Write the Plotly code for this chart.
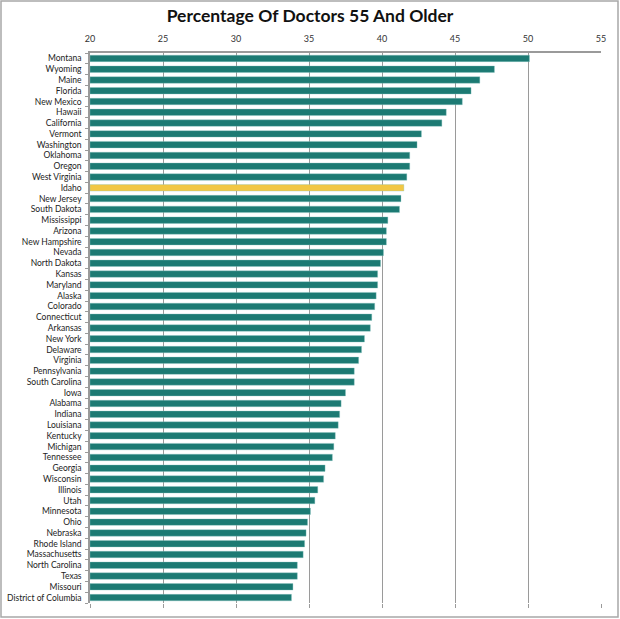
import plotly.graph_objects as go

W, H = 620, 619
MARGIN = dict(l=90, r=19, t=53, b=16)

states = [
    "Montana", "Wyoming", "Maine", "Florida", "New Mexico", "Hawaii", "California",
    "Vermont", "Washington", "Oklahoma", "Oregon", "West Virginia", "Idaho",
    "New Jersey", "South Dakota", "Mississippi", "Arizona", "New Hampshire",
    "Nevada", "North Dakota", "Kansas", "Maryland", "Alaska", "Colorado",
    "Connecticut", "Arkansas", "New York", "Delaware", "Virginia", "Pennsylvania",
    "South Carolina", "Iowa", "Alabama", "Indiana", "Louisiana", "Kentucky",
    "Michigan", "Tennessee", "Georgia", "Wisconsin", "Illinois", "Utah",
    "Minnesota", "Ohio", "Nebraska", "Rhode Island", "Massachusetts",
    "North Carolina", "Texas", "Missouri", "District of Columbia",
]
pct_55_plus = [
    50.1, 47.7, 46.7, 46.1, 45.5, 44.4, 44.1,
    42.7, 42.4, 41.9, 41.9, 41.7, 41.5,
    41.3, 41.2, 40.4, 40.3, 40.3,
    40.1, 39.9, 39.7, 39.7, 39.6, 39.5,
    39.3, 39.2, 38.8, 38.6, 38.4, 38.1,
    38.1, 37.5, 37.2, 37.1, 37.0, 36.8,
    36.7, 36.6, 36.1, 36.0, 35.6, 35.4,
    35.1, 34.9, 34.8, 34.7, 34.6,
    34.2, 34.2, 33.9, 33.8,
]
highlight = "Idaho"
x_ticks = [20, 25, 30, 35, 40, 45, 50, 55]

TEAL = "#1c7a73"
GOLD = "#f2c744"
GRID = "#9a9a9a"

colors = [GOLD if s == highlight else TEAL for s in states]
n = len(states)

fig = go.Figure()
fig.add_trace(go.Bar(
    x=[v - 20 for v in pct_55_plus], base=20, y=states, orientation="h",
    marker=dict(color=colors, line=dict(color="rgba(140,200,195,0.6)", width=0.6)),
    hoverinfo="x+y",
))
# invisible trace to drive the bottom tick axis
fig.add_trace(go.Scatter(x=[20, 55], y=[states[0], states[0]], xaxis="x2",
                         mode="markers", marker=dict(opacity=0), hoverinfo="skip",
                         showlegend=False))

fig.update_layout(
    width=W, height=H, margin=MARGIN,
    paper_bgcolor="white", plot_bgcolor="white",
    showlegend=False, bargap=0.4,
    font=dict(family="Lato, Open Sans, sans-serif", size=9, color="#222"),
    title=dict(text="<b>Percentage Of Doctors 55 And Older</b>", x=0.5, xref="container",
               xanchor="center", y=1 - 16 / H, yanchor="middle",
               font=dict(family="Lato, sans-serif", size=17.5, color="#111")),
    xaxis=dict(
        side="top", range=[20, 55], tickvals=x_ticks, ticks="",
        showgrid=True, gridcolor=GRID, gridwidth=1,
        showline=True, linecolor=GRID, linewidth=1.5, mirror=False,
        zeroline=False, tickfont=dict(size=9, color="#333"), ticklabelstandoff=6,
        automargin=False,
    ),
    xaxis2=dict(
        overlaying="x", side="bottom", range=[20, 55], tickvals=x_ticks,
        ticks="outside", ticklen=4, tickcolor=GRID, showticklabels=False,
        showgrid=False, showline=False, zeroline=False, automargin=False,
    ),
    yaxis=dict(
        range=[n - 0.5, -0.5], tickmode="array", tickvals=states,
        ticks="outside", tickson="boundaries", ticklen=3,
        tickcolor=GRID, showline=True, linecolor=GRID, linewidth=1.5,
        tickfont=dict(size=8.5, color="#222"), showgrid=False, ticklabelstandoff=5,
        automargin=False,
    ),
)

# thin frame around the whole picture
pw = W - MARGIN["l"] - MARGIN["r"]
ph = H - MARGIN["t"] - MARGIN["b"]
fig.add_shape(type="rect", xref="paper", yref="paper",
              x0=(1 - MARGIN["l"]) / pw, x1=(W - 2 - MARGIN["l"]) / pw,
              y0=-(MARGIN["b"] - 2) / ph, y1=(H - 1 - MARGIN["b"]) / ph,
              line=dict(color="#a8a8a8", width=1.5), layer="below")

fig.write_html("out.html", config={"displayModeBar": False},
               post_script="document.body.style.margin='0';")
